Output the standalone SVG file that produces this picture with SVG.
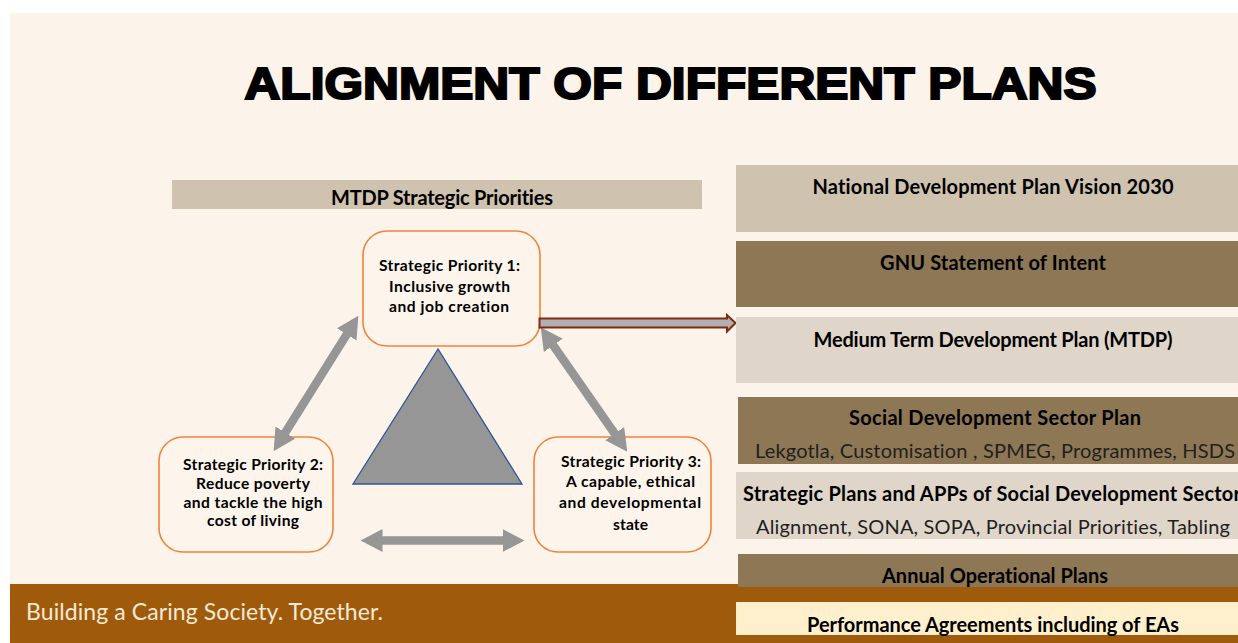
<svg xmlns="http://www.w3.org/2000/svg" width="1238" height="643" viewBox="0 0 1238 643">
<style>
text{font-family:"Lato","Liberation Sans",sans-serif;fill:#000;text-anchor:middle;font-variant-ligatures:none}
.t{font-size:20px;font-weight:700}
.n{font-size:15.600px;font-weight:700}
.s{font-size:20px;fill:#1f1f1f}
.p{fill:#fdf5ec;stroke:#f0833a;stroke-width:1.6}
.g{stroke:#969696;stroke-width:8.5;fill:none;marker-start:url(#h);marker-end:url(#h)}
</style>
<defs>
<marker id="h" markerUnits="userSpaceOnUse" markerWidth="22" markerHeight="24" refX="0.5" refY="12" orient="auto-start-reverse" viewBox="0 0 22 24"><path d="M0 0.500L22 12L0 23.500Z" fill="#969696"/></marker>
</defs>
<rect width="1238" height="643" fill="#fff"/>
<rect x="10" y="13" width="1228" height="630" fill="#fcf4ea"/>
<rect x="10" y="584" width="1228" height="59" fill="#9f5b0b"/>
<text x="204.500" y="620" textLength="357" style="font-size:23px;fill:#f4ead8;font-weight:400">Building a Caring Society. Together.</text>
<text x="670.500" y="99" style="font-family:'Liberation Sans',sans-serif;font-size:45px;font-weight:700;stroke:#000;stroke-width:2.2px" textLength="852" lengthAdjust="spacingAndGlyphs">ALIGNMENT OF DIFFERENT PLANS</text>

<g id="mtdp-header"><rect x="172" y="180" width="530" height="29" fill="#cfc3b0"/><text class="t" x="442" y="204.500" textLength="222">MTDP Strategic Priorities</text></g>

<g id="triangle"><polygon points="438,349 353,484 522,484" fill="#969696" stroke="#2f5597" stroke-width="1.3"/></g>

<g id="priority-1"><rect class="p" x="363" y="231" width="177" height="115" rx="24"/>
<text class="n" x="449.500" y="271" textLength="141">Strategic Priority 1:</text><text class="n" x="449.500" y="292" textLength="121">Inclusive growth</text><text class="n" x="449" y="312" textLength="120">and job creation</text></g>
<g id="priority-2"><rect class="p" x="159" y="437" width="174" height="115" rx="24"/>
<text class="n" x="253" y="470" textLength="140">Strategic Priority 2:</text><text class="n" x="253" y="489" textLength="114">Reduce poverty</text><text class="n" x="253" y="508" textLength="139">and tackle the high</text><text class="n" x="253" y="526" textLength="92">cost of living</text></g>
<g id="priority-3"><rect class="p" x="534" y="437" width="177" height="115" rx="24"/>
<text class="n" x="631" y="467" textLength="140">Strategic Priority 3:</text><text class="n" x="630.500" y="487" textLength="129">A capable, ethical</text><text class="n" x="630" y="508" textLength="142">and developmental</text><text class="n" x="630.500" y="530" textLength="35">state</text></g>

<g id="connectors">
<line class="g" x1="347" y1="334" x2="285" y2="433"/>
<line class="g" x1="553" y1="345" x2="615" y2="434"/>
<line class="g" x1="382" y1="540.500" x2="503" y2="540.500"/>
<polygon points="539.500,318.500 727,318.500 727,315 735.500,323 727,331.500 727,327.500 539.500,327.500" fill="#b3afb0" stroke="#7f2a10" stroke-width="2"/>
</g>

<g id="ndp"><rect x="736" y="165" width="502" height="67" fill="#cfc3b0"/><text class="t" x="993" y="193.500" textLength="361">National Development Plan Vision 2030</text></g>
<g id="gnu"><rect x="736" y="241" width="502" height="66" fill="#8d7754"/><text class="t" x="993" y="269.500" textLength="226">GNU Statement of Intent</text></g>
<g id="mtdp"><rect x="736" y="317" width="502" height="66" fill="#dfd6c9"/><text class="t" x="993" y="346.500" textLength="359">Medium Term Development Plan (MTDP)</text></g>
<g id="sector-plan"><rect x="738" y="397" width="500" height="67" fill="#8d7754"/><text class="t" x="995" y="425" textLength="292">Social Development Sector Plan</text><text class="s" x="995" y="458" textLength="480">Lekgotla, Customisation , SPMEG, Programmes, HSDS</text></g>
<g id="strategic-plans"><rect x="736" y="472" width="502" height="67" fill="#dfd6c9"/><text class="t" x="992" y="500.500" textLength="498">Strategic Plans and APPs of Social Development Sector</text><text class="s" x="993" y="534" textLength="474">Alignment, SONA, SOPA, Provincial Priorities, Tabling</text></g>
<g id="aop"><rect x="738" y="554" width="500" height="33" fill="#8d7754"/><text class="t" x="995" y="582.500" textLength="226">Annual Operational Plans</text></g>
<g id="pa"><rect x="736" y="602" width="502" height="33" fill="#fff0cd"/><text class="t" x="993" y="631.500" textLength="372">Performance Agreements including of EAs</text></g>
</svg>
